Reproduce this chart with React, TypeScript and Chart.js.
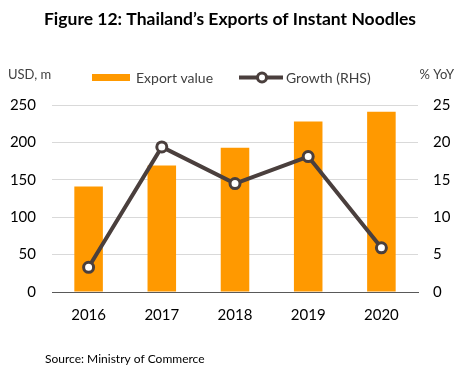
import React, { useEffect, useRef } from "react";
import { Chart, registerables } from "chart.js";

Chart.register(...registerables);

const categories = ["2016", "2017", "2018", "2019", "2020"];
const exportValue = [141, 169, 193, 228, 241];
const growth = [3.3, 19.4, 14.5, 18.1, 5.9];
const leftTicks = [0, 50, 100, 150, 200, 250];
const rightTicks = [0, 5, 10, 15, 20, 25];

const titleText = "Figure 12: Thailand\u2019s Exports of Instant Noodles";
const leftUnit = "USD, m";
const rightUnit = "% YoY";
const barLabel = "Export value";
const lineLabel = "Growth (RHS)";
const sourceText = "Source: Ministry of Commerce";

const ORANGE = "#ff9900";
const LINE = "#4a3f3d";
const FONT = "Lato, 'Open Sans', sans-serif";

const decorPlugin = {
  id: "decor",
  afterDraw(chart: any) {
    const ctx = chart.ctx;
    ctx.save();
    ctx.fillStyle = "#000";
    ctx.font = `bold 17.5px ${FONT}`;
    ctx.textAlign = "center";
    ctx.textBaseline = "middle";
    ctx.fillText(titleText, 230, 19);

    ctx.font = `13px ${FONT}`;
    ctx.fillStyle = "#404040";
    ctx.textAlign = "left";
    ctx.fillText(leftUnit, 8, 75);
    ctx.textAlign = "right";
    ctx.fillText(rightUnit, 454, 75);

    // legend
    ctx.textAlign = "left";
    ctx.fillStyle = ORANGE;
    ctx.fillRect(92, 74, 38, 7);
    ctx.fillStyle = "#404040";
    ctx.font = `14px ${FONT}`;
    ctx.fillText(barLabel, 136, 78);

    ctx.strokeStyle = LINE;
    ctx.lineWidth = 4;
    ctx.beginPath();
    ctx.moveTo(239, 77.5);
    ctx.lineTo(283, 77.5);
    ctx.stroke();
    ctx.beginPath();
    ctx.arc(262, 77.5, 4.5, 0, Math.PI * 2);
    ctx.fillStyle = "#fff";
    ctx.fill();
    ctx.lineWidth = 3;
    ctx.stroke();
    ctx.fillStyle = "#404040";
    ctx.fillText(lineLabel, 286, 78);

    ctx.font = `12px ${FONT}`;
    ctx.fillStyle = "#000";
    ctx.fillText(sourceText, 45, 359);
    ctx.restore();
  },
};

export default function App() {
  const ref = useRef<HTMLCanvasElement>(null);
  useEffect(() => {
    if (!ref.current) return;
    const chart = new Chart(ref.current, {
      type: "bar",
      data: {
        labels: categories,
        datasets: [
          {
            type: "line",
            label: lineLabel,
            data: growth,
            yAxisID: "y1",
            borderColor: LINE,
            borderWidth: 4,
            pointRadius: 5,
            pointBorderWidth: 3,
            pointBackgroundColor: "#fff",
            pointBorderColor: LINE,
            order: 0,
          } as any,
          {
            type: "bar",
            label: barLabel,
            data: exportValue,
            yAxisID: "y",
            backgroundColor: ORANGE,
            barPercentage: 0.39,
            categoryPercentage: 1,
            order: 1,
          },
        ],
      },
      options: {
        responsive: false,
        animation: false,
        layout: { padding: { top: 105, bottom: 0, left: 0, right: 0 } },
        plugins: {
          legend: { display: false },
          title: { display: false },
          tooltip: { enabled: false },
        },
        scales: {
          x: {
            grid: { display: false },
            border: { display: true, color: "#595959", width: 1 },
            ticks: { color: "#000", font: { family: FONT, size: 15 }, padding: 6 },
            afterFit(scale: any) {
              scale.height = 80;
            },
          },
          y: {
            position: "left",
            min: 0,
            max: 250,
            afterBuildTicks(scale: any) {
              scale.ticks = leftTicks.map((v) => ({ value: v }));
            },
            grid: { color: "#d9d9d9", drawTicks: false },
            border: { display: false },
            ticks: { color: "#000", font: { family: FONT, size: 15 }, padding: 16 },
            afterFit(scale: any) {
              scale.width = 52;
            },
          },
          y1: {
            position: "right",
            min: 0,
            max: 25,
            afterBuildTicks(scale: any) {
              scale.ticks = rightTicks.map((v) => ({ value: v }));
            },
            grid: { display: false, drawTicks: false },
            border: { display: false },
            ticks: { color: "#000", font: { family: FONT, size: 15 }, padding: 15 },
            afterFit(scale: any) {
              scale.width = 43;
            },
          },
        },
      },
      plugins: [decorPlugin],
    });
    return () => chart.destroy();
  }, []);
  return (
    <div style={{ position: "absolute", left: 0, top: 0, width: 461, height: 372, background: "#fff" }}>
      <canvas ref={ref} width={461} height={372} />
    </div>
  );
}
